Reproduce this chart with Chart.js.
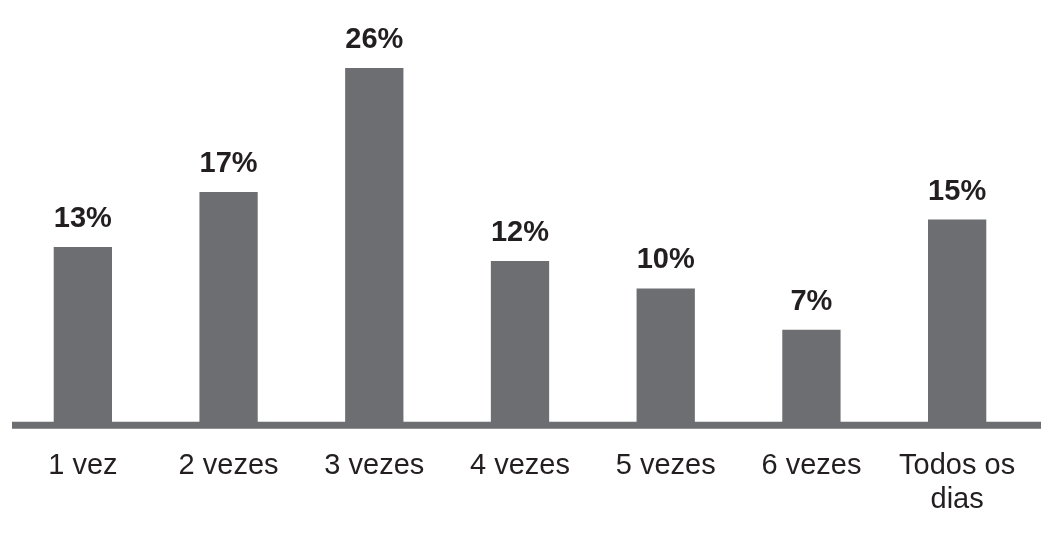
<!DOCTYPE html>
<html>
<head>
<meta charset="utf-8">
<script src="https://cdn.jsdelivr.net/npm/chart.js@4.4.0/dist/chart.umd.min.js"></script>
<style>
  html, body { margin: 0; padding: 0; background: #ffffff; }
  #wrap { width: 1064px; height: 534px; position: relative; }
</style>
</head>
<body>
<div id="wrap"><canvas id="freqChart"></canvas></div>
<script>
// --- Data ---
const categories = ['1 vez', '2 vezes', '3 vezes', '4 vezes', '5 vezes', '6 vezes', ['Todos os', 'dias']];
const percentages = [13, 17, 26, 12, 10, 7, 15];

// --- Style ---
const BAR_GRAY = '#6d6e71';
const TEXT_DARK = '#231f20';
const FONT = '"Liberation Sans", Arial, Helvetica, sans-serif';

// value labels above each bar
const valueLabels = {
    id: 'valueLabels',
    afterDatasetsDraw(chart) {
        const ctx = chart.ctx;
        const meta = chart.getDatasetMeta(0);
        ctx.save();
        ctx.font = 'bold 29px ' + FONT;
        ctx.fillStyle = TEXT_DARK;
        ctx.textAlign = 'center';
        ctx.textBaseline = 'alphabetic';
        meta.data.forEach((bar, i) => {
            ctx.fillText(percentages[i] + '%', bar.x, bar.y - 20);
        });
        ctx.restore();
    }
};

// thick baseline drawn over the bar feet
const baseLine = {
    id: 'baseLine',
    afterDatasetsDraw(chart) {
        const ctx = chart.ctx;
        const area = chart.chartArea;
        const y0 = chart.scales.y.getPixelForValue(0) - 1;
        ctx.save();
        ctx.strokeStyle = BAR_GRAY;
        ctx.lineWidth = 7;
        ctx.beginPath();
        ctx.moveTo(area.left + 2, y0);
        ctx.lineTo(area.right + 11, y0);
        ctx.stroke();
        ctx.restore();
    }
};

const ctx = document.getElementById('freqChart').getContext('2d');
new Chart(ctx, {
    type: 'bar',
    data: {
        labels: categories,
        datasets: [{
            data: percentages,
            backgroundColor: BAR_GRAY,
            borderWidth: 0,
            barPercentage: 0.4,
            categoryPercentage: 1
        }]
    },
    options: {
        responsive: true,
        maintainAspectRatio: false,
        animation: false,
        devicePixelRatio: 1,
        layout: { padding: { left: 10, right: 34, top: 13, bottom: -6 } },
        plugins: {
            legend: { display: false },
            tooltip: { enabled: false }
        },
        scales: {
            y: {
                display: false,
                min: 0,
                max: 30
            },
            x: {
                grid: { display: false, drawTicks: false },
                border: { display: false },
                ticks: {
                    color: TEXT_DARK,
                    padding: 23,
                    maxRotation: 0,
                    autoSkip: false,
                    font: { family: FONT, size: 29, lineHeight: 1.17 }
                }
            }
        }
    },
    plugins: [valueLabels, baseLine]
});
</script>
</body>
</html>
